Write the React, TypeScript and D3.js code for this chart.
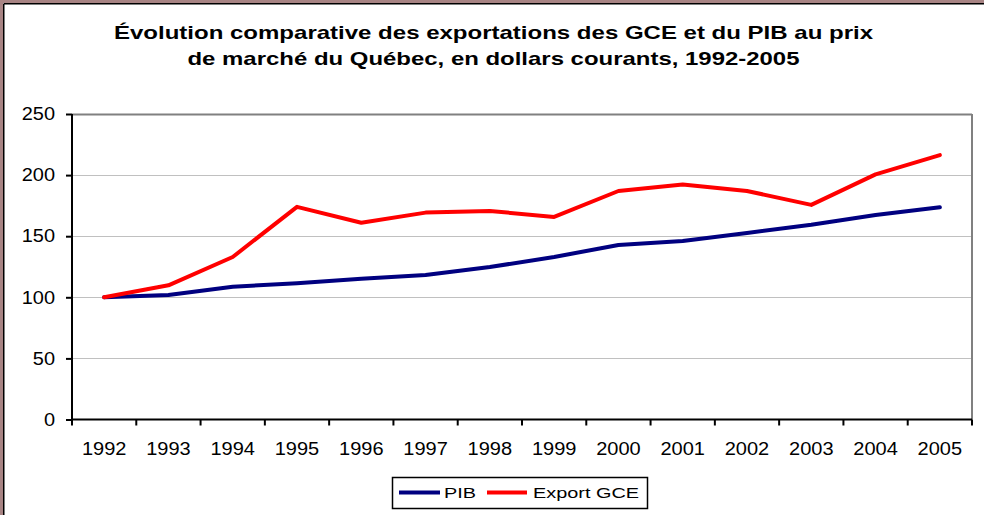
import React, { useRef, useEffect } from 'react';
import * as d3 from 'd3';

const years = ['1992', '1993', '1994', '1995', '1996', '1997', '1998', '1999', '2000', '2001', '2002', '2003', '2004', '2005'];
const pib = [100, 101.8, 108.6, 111.5, 115.2, 118.3, 124.8, 133, 142.8, 146, 152.6, 159.4, 167.4, 173.7];
const exportGce = [100, 109.8, 133, 174, 161, 169.3, 170.6, 165.8, 187, 192.4, 187, 175.6, 200.6, 216.4];
const yTicks = [0, 50, 100, 150, 200, 250];
const titleLines = [
    'Évolution comparative des exportations des GCE et du PIB au prix',
    'de marché du Québec, en dollars courants, 1992-2005',
];
const seriesNames = ['PIB', 'Export GCE'];
const seriesColors = ['#000080', '#ff0000'];

const FONT = 'Arial, "Liberation Sans", sans-serif';

const App = () => {
    const chartRef = useRef(null);

    useEffect(() => {
        d3.select(chartRef.current).selectAll('*').remove();

        const W = 984, H = 515;
        const svg = d3.select(chartRef.current)
            .attr('width', W)
            .attr('height', H);

        svg.append('rect').attr('width', W).attr('height', H).attr('fill', '#fff');

        // frame (only top and left edges are visible in the crop)
        svg.append('rect').attr('x', 0).attr('y', 0).attr('width', W).attr('height', 3).attr('fill', '#a88484');
        svg.append('rect').attr('x', 0).attr('y', 0).attr('width', 3).attr('height', H).attr('fill', '#a88484');
        svg.append('line').attr('x1', 3.75).attr('x2', W).attr('y1', 3.75).attr('y2', 3.75)
            .attr('stroke', '#000').attr('stroke-width', 1.5);
        svg.append('line').attr('x1', 3.75).attr('x2', 3.75).attr('y1', 3.75).attr('y2', H)
            .attr('stroke', '#000').attr('stroke-width', 1.5);

        // title
        const titleWidths = [759, 612];
        titleLines.forEach((t, i) => {
            svg.append('text')
                .attr('x', 493.5)
                .attr('y', 39 + i * 26)
                .attr('text-anchor', 'middle')
                .attr('font-family', FONT)
                .attr('font-weight', 'bold')
                .attr('font-size', 19)
                .attr('textLength', titleWidths[i])
                .attr('lengthAdjust', 'spacingAndGlyphs')
                .text(t);
        });

        const margin = { top: 114, right: 12, bottom: 95, left: 72 };
        const width = W - margin.left - margin.right;
        const height = H - margin.top - margin.bottom - 0.5;

        const x = d3.scaleBand().domain(years).range([0, width]);
        const y = d3.scaleLinear().domain([0, 250]).range([height, 0]);

        const g = svg.append('g').attr('transform', `translate(${margin.left},${margin.top})`);

        // gridlines
        g.append('g')
            .selectAll('line')
            .data(yTicks.filter(d => d > 0))
            .join('line')
            .attr('x1', 0).attr('x2', width)
            .attr('y1', d => Math.round(y(d)) + 0.5).attr('y2', d => Math.round(y(d)) + 0.5)
            .attr('stroke', d => d === 250 ? '#808080' : '#c0c0c0')
            .attr('stroke-width', d => d === 250 ? 2 : 1);

        // right plot border
        g.append('line')
            .attr('x1', width).attr('x2', width).attr('y1', 0).attr('y2', height)
            .attr('stroke', '#808080').attr('stroke-width', 2);

        // y axis
        const yAxis = g.append('g')
            .call(d3.axisLeft(y).tickValues(yTicks).tickSize(6).tickPadding(11));
        yAxis.select('.domain').attr('stroke', '#000').attr('stroke-width', 2).attr('d', `M0,0V${height}`);
        yAxis.selectAll('.tick line').attr('stroke', '#000').attr('stroke-width', 2);
        yAxis.selectAll('.tick text')
            .attr('font-family', FONT).attr('font-size', 18).attr('fill', '#000')
            .attr('textLength', d => String(d).length * 11.1)
            .attr('lengthAdjust', 'spacingAndGlyphs');

        // x axis, ticks between categories
        const xg = g.append('g').attr('transform', `translate(0,${height})`);
        xg.append('line').attr('x1', 0).attr('x2', width).attr('y1', 0).attr('y2', 0)
            .attr('stroke', '#000').attr('stroke-width', 2);
        xg.selectAll('line.tk')
            .data(years.concat(['end']))
            .join('line')
            .attr('class', 'tk')
            .attr('x1', (d, i) => i * x.step()).attr('x2', (d, i) => i * x.step())
            .attr('y1', 0).attr('y2', 6)
            .attr('stroke', '#000').attr('stroke-width', 2);
        xg.selectAll('text')
            .data(years)
            .join('text')
            .attr('x', d => x(d) + x.bandwidth() / 2)
            .attr('y', 35)
            .attr('text-anchor', 'middle')
            .attr('font-family', FONT).attr('font-size', 18)
            .attr('textLength', 44.5)
            .attr('lengthAdjust', 'spacingAndGlyphs')
            .text(d => d);

        // lines
        const line = d3.line()
            .x((d, i) => x(years[i]) + x.bandwidth() / 2)
            .y(d => y(d));

        [pib, exportGce].forEach((s, i) => {
            g.append('path')
                .datum(s)
                .attr('fill', 'none')
                .attr('stroke', seriesColors[i])
                .attr('stroke-width', 4)
                .attr('stroke-linejoin', 'round')
                .attr('stroke-linecap', 'round')
                .attr('d', line);
        });

        // legend
        const lg = svg.append('g');
        lg.append('rect')
            .attr('x', 392.5).attr('y', 477.5).attr('width', 255).attr('height', 31)
            .attr('fill', '#fff').attr('stroke', '#000').attr('stroke-width', 1.5);
        const legendItems = [
            { x1: 399, x2: 440, tx: 444, tw: 32 },
            { x1: 487, x2: 527, tx: 533, tw: 106 },
        ];
        legendItems.forEach((it, i) => {
            lg.append('line')
                .attr('x1', it.x1).attr('x2', it.x2).attr('y1', 492.5).attr('y2', 492.5)
                .attr('stroke', seriesColors[i]).attr('stroke-width', 4);
            lg.append('text')
                .attr('x', it.tx).attr('y', 498)
                .attr('font-family', FONT).attr('font-size', 15.5)
                .attr('textLength', it.tw)
                .attr('lengthAdjust', 'spacingAndGlyphs')
                .text(seriesNames[i]);
        });
    }, []);

    return (
        <div style={{ position: 'fixed', left: 0, top: 0 }}>
            <svg ref={chartRef} style={{ display: 'block' }}></svg>
        </div>
    );
};

export default App;
